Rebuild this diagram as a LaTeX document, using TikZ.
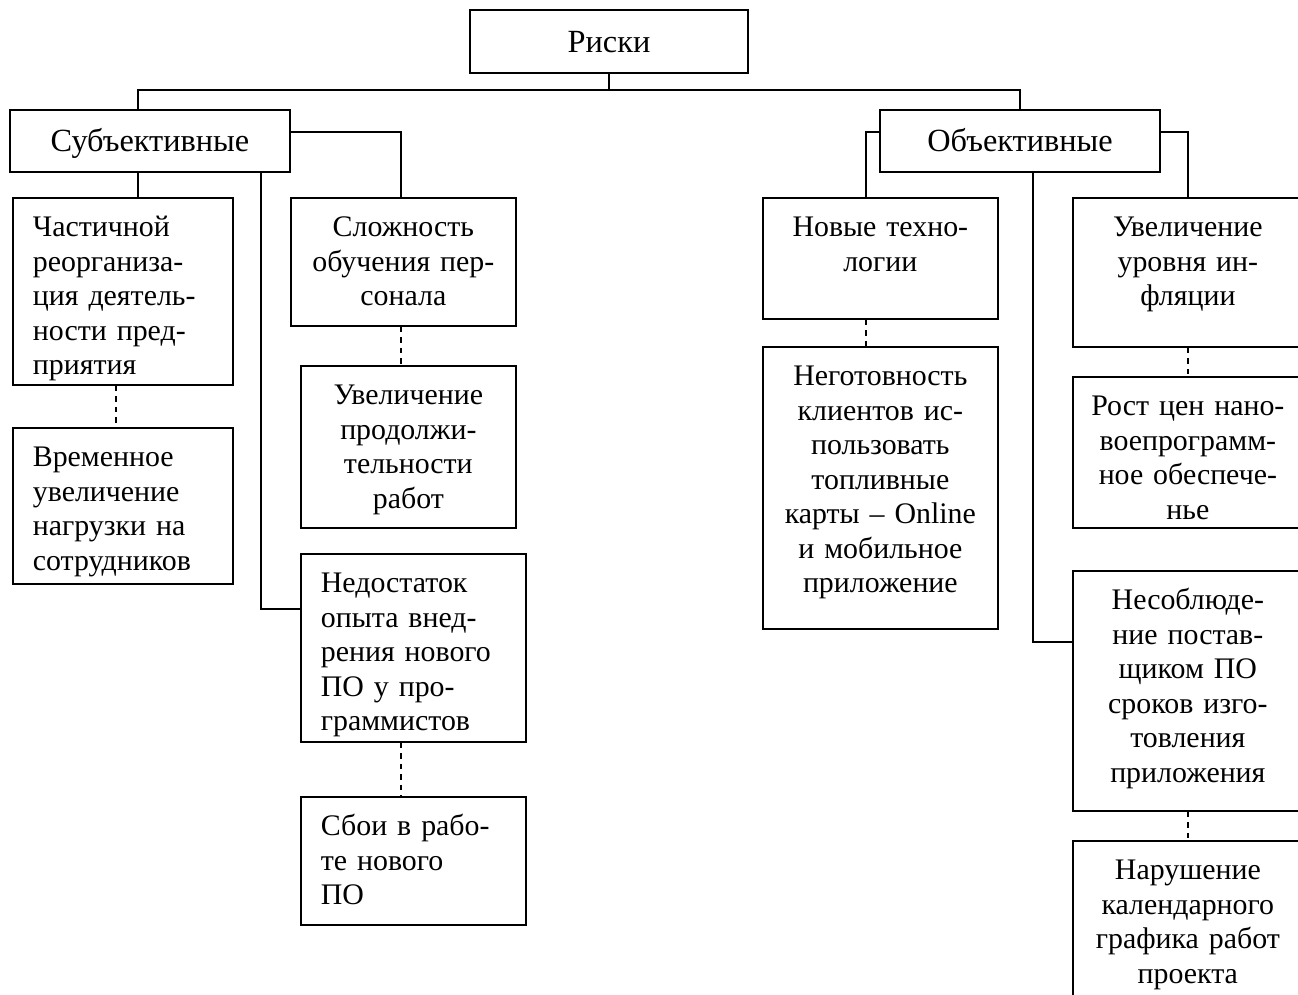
\documentclass[tikz,border=0pt]{standalone}
\usepackage{fontspec}
\setmainfont{Liberation Serif}
\begin{document}
\begin{tikzpicture}[x=0.02cm,y=-0.02cm,line width=1pt,
  every node/.style={font=\fontsize{17}{19.6}\selectfont},
  head/.style={draw, minimum height=1.24cm, text height=13pt, text depth=1pt, font=\fontsize{18.4}{20}\selectfont},
  lbox/.style={draw, anchor=north west, inner xsep=0.4cm, inner ysep=0pt, text height=0.78cm, align=left},
  cbox/.style={draw, anchor=north west, inner xsep=0.1cm, inner ysep=0pt, text height=0.78cm, align=center}]
\useasboundingbox (0,0) rectangle (1298,994);

\node[head, minimum width=5.56cm, minimum height=1.26cm] (risk) at (609,41.5) {Риски};
\node[head, minimum width=5.6cm] (subj) at (150,141) {Субъективные};
\node[head, minimum width=5.6cm] (obj) at (1020,141) {Объективные};

% subjective
\node[lbox, text width=3.6cm, text depth=2.96cm] (reorg) at (12,197) {Частичной\\реорганиза-\\ция деятель-\\ности пред-\\приятия};
\node[lbox, text width=3.6cm, text depth=2.34cm] (load) at (12,427) {Временное\\увеличение\\нагрузки на\\сотрудников};
\node[cbox, text width=4.3cm, text depth=1.78cm] (train) at (290,197) {Сложность\\обучения пер-\\сонала};
\node[cbox, text width=4.1cm, text depth=2.46cm] (duration) at (300,365) {Увеличение\\продолжи-\\тельности\\работ};
\node[lbox, text width=3.7cm, text depth=2.98cm] (exper) at (300,553) {Недостаток\\опыта внед-\\рения нового\\ПО у про-\\граммистов};
\node[lbox, text width=3.7cm, text depth=1.78cm] (fail) at (300,796) {Сбои в рабо-\\те нового\\ПО};

% objective
\node[cbox, text width=4.5cm, text depth=1.64cm] (tech) at (762,197) {Новые техно-\\логии};
\node[cbox, text width=4.5cm, text depth=4.86cm] (clients) at (762,346) {Неготовность\\клиентов ис-\\пользовать\\топливные\\карты -- Online\\и мобильное\\приложение};
\node[cbox, text width=4.4cm, text depth=2.2cm] (infl) at (1072,197) {Увеличение\\уровня ин-\\фляции};
\node[cbox, text width=4.4cm, text depth=2.24cm] (price) at (1072,376) {Рост цен нано-\\воепрограмм-\\ное обеспече-\\нье};
\node[cbox, text width=4.4cm, text depth=4.02cm] (supplier) at (1072,570) {Несоблюде-\\ние постав-\\щиком ПО\\сроков изго-\\товления\\приложения};
\node[cbox, text width=4.4cm, text depth=2.62cm] (schedule) at (1072,840) {Нарушение\\календарного\\графика работ\\проекта};

\coordinate (busL) at (138,90);
\coordinate (busR) at (1020,90);
\draw (risk.south) -- (risk.south |- busL);
\draw (busL |- subj.north) -- (busL) -- (busR) -- (busR |- obj.north);

\draw (busL |- subj.south) -- (busL |- reorg.north);
\draw ([yshift=0.18cm]subj.east) -| ([xshift=-0.05cm]train.north);
\draw ([xshift=-0.6cm]subj.south east) |- ([yshift=0.78cm]exper.west);
\draw[dashed] ([xshift=-0.14cm]reorg.south) -- ([xshift=-0.14cm]load.north);
\draw[dashed] ([xshift=-0.05cm]train.south) -- ([xshift=-0.05cm]train.south |- duration.north);
\draw[dashed] ([xshift=-0.24cm]exper.south) -- ([xshift=-0.24cm]fail.north);

\draw ([yshift=0.18cm]obj.west) -| ([xshift=-0.29cm]tech.north);
\draw ([yshift=0.18cm]obj.east) -| (infl.north);
\draw ([xshift=0.26cm]obj.south) |- ([yshift=0.98cm]supplier.west);
\draw[dashed] ([xshift=-0.29cm]tech.south) -- ([xshift=-0.29cm]clients.north);
\draw[dashed] (infl.south) -- (price.north);
\draw[dashed] (supplier.south) -- (schedule.north);
\end{tikzpicture}
\end{document}
